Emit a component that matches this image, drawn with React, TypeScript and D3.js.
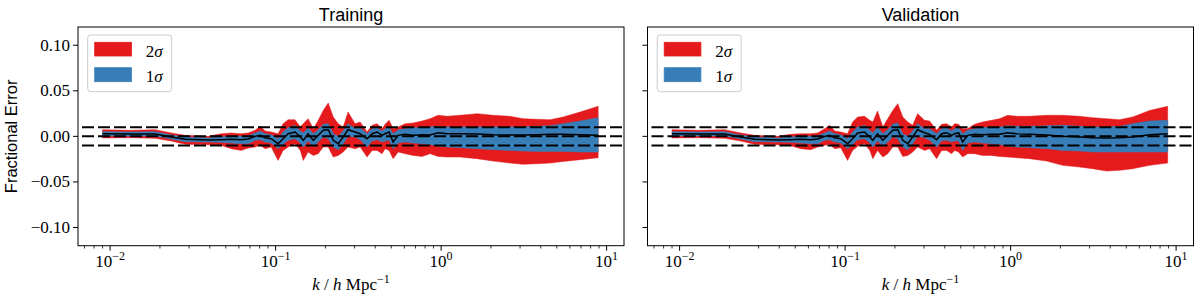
import React from 'react';
import * as d3 from 'd3';

const kValues = [0.0090, 0.0134, 0.0187, 0.0234, 0.0284, 0.0391, 0.0469, 0.0539, 0.0619, 0.0683, 0.0752, 0.0806, 0.0865, 0.0940, 0.1035, 0.111, 0.119, 0.131, 0.141, 0.147, 0.157, 0.169, 0.181, 0.194, 0.208, 0.223, 0.239, 0.256, 0.274, 0.302, 0.324, 0.357, 0.383, 0.410, 0.440, 0.459, 0.485, 0.513, 0.550, 0.606, 0.677, 0.767, 0.858, 0.959, 1.087, 1.30, 1.65, 2.06, 2.61, 3.13, 3.80, 4.56, 5.46, 6.92, 8.89];

// Training
const trainHi2 = [0.0073, 0.0066, 0.0073, 0.0037, 0.0011, 0.0000, 0.0029, 0.0037, 0.0029, 0.0037, 0.0066, 0.0110, 0.0059, 0.0048, 0.0029, 0.0139, 0.0183, 0.0183, 0.0102, 0.0139, 0.0194, 0.0084, 0.0176, 0.0285, 0.0366, 0.0212, 0.0139, 0.0102, 0.0267, 0.0139, 0.0157, 0.0048, 0.0121, 0.0139, 0.0084, 0.0132, 0.0176, 0.0084, 0.0102, 0.0139, 0.0146, 0.0168, 0.0194, 0.0231, 0.0220, 0.0231, 0.0249, 0.0231, 0.0220, 0.0194, 0.0187, 0.0183, 0.0212, 0.0267, 0.0329];
const trainHi1 = [0.0051, 0.0048, 0.0051, 0.0015, -0.0007, -0.0018, -0.0007, 0.0000, 0.0000, 0.0007, 0.0037, 0.0059, 0.0029, 0.0018, -0.0026, 0.0048, 0.0095, 0.0121, 0.0059, 0.0037, 0.0095, 0.0029, 0.0073, 0.0132, 0.0139, 0.0029, 0.0000, 0.0059, 0.0139, 0.0084, 0.0095, 0.0029, 0.0084, 0.0095, 0.0059, 0.0084, 0.0102, 0.0029, 0.0073, 0.0084, 0.0095, 0.0095, 0.0102, 0.0110, 0.0102, 0.0102, 0.0102, 0.0102, 0.0102, 0.0102, 0.0110, 0.0117, 0.0139, 0.0168, 0.0205];
const trainMid = [0.0029, 0.0026, 0.0026, -0.0007, -0.0033, -0.0040, -0.0037, -0.0033, -0.0037, -0.0029, 0.0000, 0.0011, -0.0015, -0.0026, -0.0081, -0.0026, 0.0029, 0.0048, -0.0007, -0.0044, 0.0029, -0.0044, 0.0011, 0.0066, 0.0073, -0.0044, -0.0081, -0.0007, 0.0073, 0.0048, 0.0029, -0.0026, 0.0029, 0.0048, 0.0011, 0.0029, 0.0048, -0.0062, 0.0011, 0.0022, 0.0011, 0.0018, 0.0015, 0.0040, 0.0029, 0.0029, 0.0026, 0.0018, 0.0015, 0.0015, 0.0018, 0.0022, 0.0022, 0.0018, 0.0011];
const trainLo1 = [0.0004, 0.0004, 0.0004, -0.0029, -0.0059, -0.0062, -0.0066, -0.0073, -0.0081, -0.0081, -0.0044, -0.0037, -0.0062, -0.0073, -0.0135, -0.0088, -0.0044, -0.0026, -0.0073, -0.0117, -0.0051, -0.0110, -0.0062, -0.0007, -0.0026, -0.0117, -0.0146, -0.0081, 0.0000, -0.0007, -0.0037, -0.0117, -0.0051, -0.0037, -0.0062, -0.0051, -0.0044, -0.0135, -0.0073, -0.0062, -0.0073, -0.0081, -0.0088, -0.0110, -0.0117, -0.0124, -0.0135, -0.0146, -0.0154, -0.0161, -0.0165, -0.0165, -0.0165, -0.0172, -0.0172];
const trainLo2 = [-0.0018, -0.0015, -0.0022, -0.0051, -0.0088, -0.0092, -0.0099, -0.0135, -0.0154, -0.0128, -0.0117, -0.0099, -0.0135, -0.0117, -0.0264, -0.0154, -0.0117, -0.0081, -0.0154, -0.0264, -0.0172, -0.0209, -0.0190, -0.0117, -0.0117, -0.0227, -0.0209, -0.0172, -0.0117, -0.0135, -0.0117, -0.0227, -0.0154, -0.0154, -0.0190, -0.0135, -0.0154, -0.0245, -0.0172, -0.0190, -0.0209, -0.0220, -0.0190, -0.0220, -0.0227, -0.0227, -0.0245, -0.0271, -0.0293, -0.0307, -0.0300, -0.0293, -0.0275, -0.0256, -0.0234];

// Validation
const valHi2 = [0.0073, 0.0066, 0.0073, 0.0037, 0.0011, 0.0000, 0.0022, 0.0029, 0.0029, 0.0037, 0.0084, 0.0121, 0.0059, 0.0048, 0.0029, 0.0157, 0.0212, 0.0220, 0.0176, 0.0157, 0.0278, 0.0102, 0.0194, 0.0285, 0.0359, 0.0212, 0.0157, 0.0121, 0.0249, 0.0176, 0.0168, 0.0066, 0.0132, 0.0139, 0.0102, 0.0139, 0.0132, 0.0084, 0.0084, 0.0132, 0.0157, 0.0176, 0.0194, 0.0231, 0.0220, 0.0220, 0.0231, 0.0231, 0.0220, 0.0205, 0.0194, 0.0183, 0.0212, 0.0285, 0.0329];
const valHi1 = [0.0051, 0.0048, 0.0051, 0.0015, -0.0007, -0.0018, -0.0007, 0.0000, 0.0000, 0.0007, 0.0037, 0.0059, 0.0029, 0.0018, -0.0026, 0.0048, 0.0102, 0.0121, 0.0066, 0.0037, 0.0102, 0.0029, 0.0073, 0.0132, 0.0146, 0.0029, 0.0000, 0.0059, 0.0139, 0.0084, 0.0084, 0.0029, 0.0084, 0.0095, 0.0059, 0.0084, 0.0095, 0.0029, 0.0066, 0.0084, 0.0095, 0.0102, 0.0102, 0.0117, 0.0110, 0.0110, 0.0117, 0.0121, 0.0110, 0.0102, 0.0102, 0.0110, 0.0139, 0.0168, 0.0176];
const valMid = [0.0029, 0.0026, 0.0026, -0.0007, -0.0033, -0.0040, -0.0037, -0.0033, -0.0037, -0.0029, 0.0000, 0.0011, -0.0015, -0.0026, -0.0081, -0.0026, 0.0037, 0.0048, -0.0007, -0.0044, 0.0029, -0.0044, 0.0011, 0.0066, 0.0073, -0.0044, -0.0081, -0.0007, 0.0073, 0.0040, 0.0022, -0.0037, 0.0029, 0.0040, 0.0011, 0.0029, 0.0040, -0.0062, 0.0011, 0.0022, 0.0018, 0.0022, 0.0022, 0.0040, 0.0029, 0.0022, 0.0015, 0.0000, -0.0007, -0.0015, -0.0018, -0.0015, -0.0007, 0.0018, 0.0029];
const valLo1 = [0.0004, 0.0004, 0.0004, -0.0029, -0.0059, -0.0062, -0.0066, -0.0073, -0.0081, -0.0081, -0.0044, -0.0037, -0.0062, -0.0073, -0.0135, -0.0088, -0.0037, -0.0026, -0.0073, -0.0117, -0.0051, -0.0110, -0.0062, -0.0007, -0.0026, -0.0117, -0.0146, -0.0081, 0.0000, -0.0015, -0.0044, -0.0117, -0.0051, -0.0044, -0.0062, -0.0051, -0.0051, -0.0154, -0.0073, -0.0062, -0.0073, -0.0081, -0.0088, -0.0110, -0.0117, -0.0124, -0.0135, -0.0154, -0.0161, -0.0172, -0.0172, -0.0172, -0.0172, -0.0172, -0.0172];
const valLo2 = [-0.0018, -0.0015, -0.0022, -0.0051, -0.0088, -0.0092, -0.0102, -0.0135, -0.0146, -0.0117, -0.0099, -0.0088, -0.0135, -0.0124, -0.0264, -0.0154, -0.0110, -0.0081, -0.0154, -0.0245, -0.0154, -0.0227, -0.0190, -0.0117, -0.0117, -0.0220, -0.0209, -0.0172, -0.0117, -0.0154, -0.0135, -0.0245, -0.0154, -0.0154, -0.0190, -0.0154, -0.0172, -0.0227, -0.0190, -0.0190, -0.0209, -0.0209, -0.0220, -0.0227, -0.0234, -0.0245, -0.0271, -0.0318, -0.0337, -0.0355, -0.0381, -0.0373, -0.0355, -0.0318, -0.0293];

const yTicks = [-0.10, -0.05, 0.00, 0.05, 0.10];
const yTickLabels = ['\u22120.10', '\u22120.05', '0.00', '0.05', '0.10'];
const xMajorTicks = [0.01, 0.1, 1, 10];
const xMajorExp = ['\u22122', '\u22121', '0', '1'];
const refLines = [0.01, 0.0, -0.01];
const panelTitles = ['Training', 'Validation'];
const legendLabels = ['2', '1'];

const RED = '#e41a1c';
const BLUE = '#377eb8';
const SERIF = '"Liberation Serif", "DejaVu Serif", serif';
const SANS = '"Liberation Sans", "DejaVu Sans", sans-serif';

const W = 546;
const H = 218.7;
const TOP = 27;
const LEFTS = [78, 647.5];

const x = d3.scaleLog().domain([Math.pow(10, -2.194), Math.pow(10, 1.105)]).range([0, W]);
const y = d3.scaleLinear().domain([-0.12, 0.12]).range([H, 0]);

type Series = { hi2: number[]; hi1: number[]; mid: number[]; lo1: number[]; lo2: number[] };

const panels: Series[] = [
  { hi2: trainHi2, hi1: trainHi1, mid: trainMid, lo1: trainLo1, lo2: trainLo2 },
  { hi2: valHi2, hi1: valHi1, mid: valMid, lo1: valLo1, lo2: valLo2 },
];

const minorTicks: number[] = [];
for (let e = -3; e <= 1; e++) {
  for (let m = 2; m <= 9; m++) {
    const v = m * Math.pow(10, e);
    if (x(v) >= 0 && x(v) <= W) minorTicks.push(v);
  }
}

function Panel({ idx }: { idx: number }) {
  const s = panels[idx];
  const left = LEFTS[idx];
  const idxs = kValues.map((_, i) => i);
  const band = (lo: number[], hi: number[]) =>
    d3.area<number>().x((i) => x(kValues[i])).y0((i) => y(lo[i])).y1((i) => y(hi[i]))(idxs) || '';
  const line = d3.line<number>().x((i) => x(kValues[i])).y((i) => y(s.mid[i]))(idxs) || '';
  const clipId = `clip${idx}`;
  return (
    <g transform={`translate(${left},${TOP})`}>
      <defs>
        <clipPath id={clipId}>
          <rect x={0} y={0} width={W} height={H} />
        </clipPath>
      </defs>
      <g clipPath={`url(#${clipId})`}>
        <path d={band(s.lo2, s.hi2)} fill={RED} stroke={RED} strokeWidth={0.5} />
        <path d={band(s.lo1, s.hi1)} fill={BLUE} stroke={BLUE} strokeWidth={0.5} />
        <path d={line} fill="none" stroke="#000" strokeWidth={1.5} />
        {refLines.map((v) => (
          <line key={v} x1={0} x2={W} y1={y(v)} y2={y(v)} stroke="#000" strokeWidth={2} strokeDasharray="12,4" strokeDashoffset={-4} />
        ))}
      </g>
      {/* y ticks */}
      {yTicks.map((t, i) => (
        <g key={t}>
          <line x1={-5} x2={0} y1={y(t)} y2={y(t)} stroke="#000" strokeWidth={1} />
          {idx === 0 && (
            <text x={-8} y={y(t) + 5.5} textAnchor="end" fontFamily={SERIF} fontSize={17}>
              {yTickLabels[i]}
            </text>
          )}
        </g>
      ))}
      {/* x ticks */}
      {minorTicks.map((t) => (
        <line key={t} x1={x(t)} x2={x(t)} y1={H} y2={H + 2.8} stroke="#000" strokeWidth={0.8} />
      ))}
      {xMajorTicks.map((t, i) => (
        <g key={t}>
          <line x1={x(t)} x2={x(t)} y1={H} y2={H + 5} stroke="#000" strokeWidth={1} />
          <text x={x(t)} y={H + 21.5} textAnchor="middle" fontFamily={SERIF} fontSize={17}>
            10
            <tspan dy={-7} fontSize={12}>
              {xMajorExp[i]}
            </tspan>
          </text>
        </g>
      ))}
      <rect x={0} y={0} width={W} height={H} fill="none" stroke="#000" strokeWidth={1} />
      {/* title */}
      <text x={W / 2} y={-6} textAnchor="middle" fontFamily={SANS} fontSize={18}>
        {panelTitles[idx]}
      </text>
      {/* x label */}
      <text x={W / 2} y={H + 44} textAnchor="middle" fontFamily={SERIF} fontSize={17}>
        <tspan fontStyle="italic">k</tspan>
        <tspan> / </tspan>
        <tspan fontStyle="italic">h</tspan>
        <tspan> Mpc</tspan>
        <tspan dy={-7} fontSize={12}>{'\u22121'}</tspan>
      </text>
      {/* legend */}
      <g transform="translate(9.7,8)">
        <rect x={0} y={0} width={84} height={56.7} rx={3} fill="#fff" fillOpacity={0.8} stroke="#cccccc" strokeWidth={1} />
        <rect x={7} y={7.3} width={36.7} height={13.7} fill={RED} stroke={RED} strokeWidth={0.8} />
        <rect x={7} y={32.7} width={36.7} height={14} fill={BLUE} stroke={BLUE} strokeWidth={0.8} />
        {legendLabels.map((l, i) => (
          <text key={l} x={58} y={21.5 + i * 25.3} fontFamily={SERIF} fontSize={17}>
            {l}
            <tspan fontStyle="italic">σ</tspan>
          </text>
        ))}
      </g>
    </g>
  );
}

export default function App() {
  return (
    <svg width={1200} height={298} style={{ position: 'absolute', left: 0, top: 0, background: '#fff' }}>
      <rect x={0} y={0} width={1200} height={298} fill="#fff" />
      <Panel idx={0} />
      <Panel idx={1} />
      <text
        transform={`translate(17,${TOP + H / 2}) rotate(-90)`}
        textAnchor="middle"
        fontFamily={SANS}
        fontSize={16.5}
      >
        Fractional Error
      </text>
    </svg>
  );
}
